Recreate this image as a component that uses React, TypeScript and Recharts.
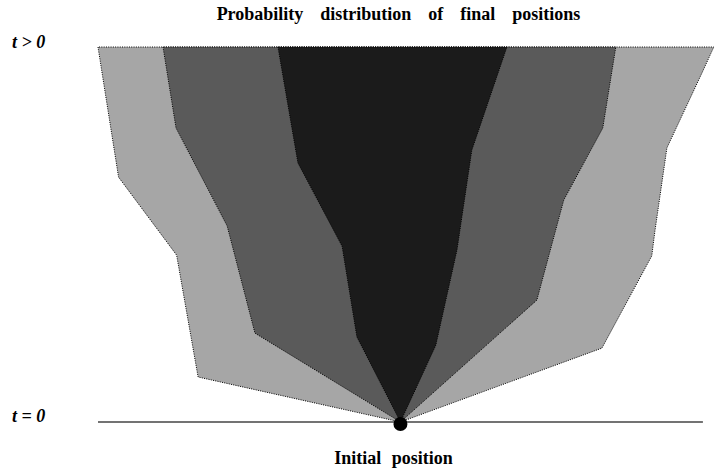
import * as React from "react";
import { ScatterChart, Scatter, XAxis, YAxis } from "recharts";

// Band outlines: position (x, -1..1 spans the base line) against time (y, 0..1)
const outerBand = [
  { x: -1.0, y: 1.0 },
  { x: -0.932, y: 0.653 },
  { x: -0.74, y: 0.445 },
  { x: -0.669, y: 0.12 },
  { x: 0, y: 0 },
  { x: 0.666, y: 0.197 },
  { x: 0.831, y: 0.443 },
  { x: 0.841, y: 0.507 },
  { x: 0.881, y: 0.731 },
  { x: 0.997, y: 0.931 },
  { x: 1.036, y: 1.0 },
  { x: -1.0, y: 1.0 },
];

const middleBand = [
  { x: -0.785, y: 1.0 },
  { x: -0.742, y: 0.784 },
  { x: -0.573, y: 0.523 },
  { x: -0.481, y: 0.237 },
  { x: 0, y: 0 },
  { x: 0.451, y: 0.325 },
  { x: 0.54, y: 0.592 },
  { x: 0.669, y: 0.784 },
  { x: 0.712, y: 1.0 },
  { x: -0.785, y: 1.0 },
];

const innerBand = [
  { x: -0.405, y: 1.0 },
  { x: -0.339, y: 0.691 },
  { x: -0.193, y: 0.469 },
  { x: -0.144, y: 0.227 },
  { x: 0, y: 0 },
  { x: 0.117, y: 0.205 },
  { x: 0.187, y: 0.459 },
  { x: 0.236, y: 0.725 },
  { x: 0.352, y: 1.0 },
  { x: -0.405, y: 1.0 },
];

const baseLine = [
  { x: -1.0, y: 0 },
  { x: 1.0, y: 0 },
];

const origin = [{ x: 0, y: 0 }];

const bands = [
  { name: "outer", data: outerBand, fill: "#a6a6a6" },
  { name: "middle", data: middleBand, fill: "#5a5a5a" },
  { name: "inner", data: innerBand, fill: "#1b1b1b" },
];

const noPoint = () => <g />;

const serif = "'Liberation Serif', 'Times New Roman', serif";

export default function App() {
  return (
    <div style={{ position: "absolute", left: 0, top: 0, background: "#fff" }}>
      <ScatterChart
        width={715}
        height={470}
        margin={{ top: 47, right: 0, bottom: 48, left: 7.25 }}
      >
        <XAxis type="number" dataKey="x" hide domain={[-1.3, 1.04]} />
        <YAxis type="number" dataKey="y" hide domain={[0, 1]} />
        {bands.map((b) => (
          <Scatter
            key={b.name}
            data={b.data}
            shape={noPoint}
            line={{
              fill: b.fill,
              stroke: "#000",
              strokeWidth: 1,
              strokeDasharray: "1 1.3",
            }}
            lineJointType="linear"
            isAnimationActive={false}
          />
        ))}
        <Scatter
          data={baseLine}
          shape={noPoint}
          line={{ stroke: "#444", strokeWidth: 1.6 }}
          lineJointType="linear"
          isAnimationActive={false}
        />
        <Scatter
          data={origin}
          shape={(p: any) => <circle cx={p.cx} cy={p.cy + 2} r={7} fill="#000" />}
          isAnimationActive={false}
        />
        <text
          x={398.5}
          y={19.5}
          textAnchor="middle"
          fontFamily={serif}
          fontWeight="bold"
          fontSize={18}
          style={{ wordSpacing: 12.5 }}
        >
          Probability distribution of final positions
        </text>
        <text x={12} y={48} fontFamily={serif} fontWeight="bold" fontStyle="italic" fontSize={18}>
          t &gt; 0
        </text>
        <text x={12} y={422} fontFamily={serif} fontWeight="bold" fontStyle="italic" fontSize={18}>
          t = 0
        </text>
        <text
          x={393.5}
          y={464}
          textAnchor="middle"
          fontFamily={serif}
          fontWeight="bold"
          fontSize={18}
          style={{ wordSpacing: 6 }}
        >
          Initial position
        </text>
      </ScatterChart>
    </div>
  );
}
